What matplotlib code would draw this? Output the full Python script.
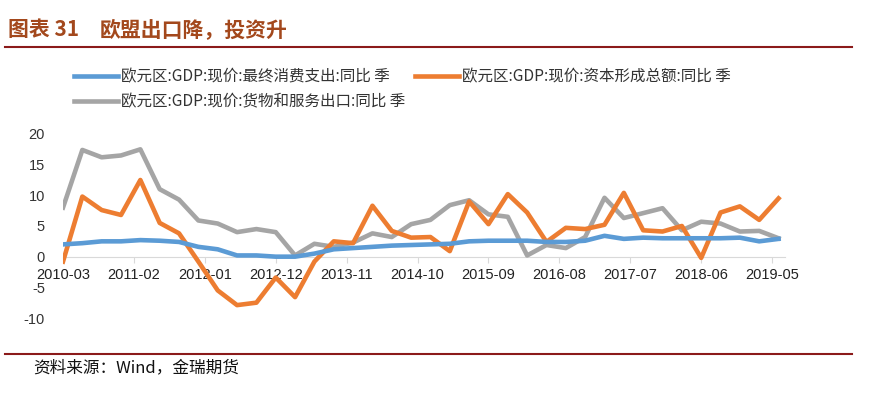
import numpy as np
import matplotlib.pyplot as plt
from matplotlib.lines import Line2D

plt.rcParams['font.family'] = ['Noto Sans CJK SC', 'DejaVu Sans']

# quarterly points, 2010-03 .. 2019-06 (months since 2010-03)
months = np.arange(0, 112, 3)
tick_months = np.arange(0, 111, 11)
tick_labels = ['2010-03', '2011-02', '2012-01', '2012-12', '2013-11', '2014-10',
               '2015-09', '2016-08', '2017-07', '2018-06', '2019-05']

consumption = [2.0, 2.2, 2.5, 2.5, 2.7, 2.6, 2.4, 1.6, 1.2, 0.2,
               0.2, 0.0, 0.0, 0.5, 1.2, 1.4, 1.6, 1.8, 1.9, 2.0,
               2.1, 2.5, 2.6, 2.6, 2.6, 2.4, 2.4, 2.6, 3.4, 2.9,
               3.1, 3.0, 3.0, 3.0, 3.0, 3.1, 2.5, 2.9]
capital = [-0.8, 9.8, 7.6, 6.8, 12.5, 5.5, 3.8, -0.8, -5.5, -7.9,
           -7.5, -3.4, -6.6, -0.8, 2.5, 2.2, 8.3, 4.2, 3.1, 3.2,
           0.9, 9.0, 5.3, 10.2, 7.2, 2.4, 4.7, 4.5, 5.2, 10.4,
           4.3, 4.1, 5.0, -0.2, 7.2, 8.2, 6.0, 9.5]
exports = [8.0, 17.4, 16.2, 16.5, 17.5, 11.0, 9.3, 5.9, 5.4, 4.0,
           4.5, 4.0, 0.2, 2.1, 1.6, 2.3, 3.8, 3.2, 5.3, 6.0,
           8.4, 9.2, 6.9, 6.5, 0.2, 1.9, 1.4, 3.2, 9.6, 6.3,
           7.1, 7.9, 4.3, 5.7, 5.4, 4.1, 4.2, 3.0]

labels = ['欧元区:GDP:现价:最终消费支出:同比 季',
          '欧元区:GDP:现价:资本形成总额:同比 季',
          '欧元区:GDP:现价:货物和服务出口:同比 季']
colors = ['#5B9BD5', '#ED7D31', '#A5A5A5']

fig = plt.figure(figsize=(8.77, 3.97), dpi=100)
W, H = 877, 397
ax = fig.add_axes([63 / W, 1 - 318 / H, (785 - 63) / W, (318 - 134) / H])

l1, = ax.plot(months, consumption, color=colors[0], lw=3.3, solid_joinstyle='round', zorder=3)
l2, = ax.plot(months, capital, color=colors[1], lw=3.3, solid_joinstyle='round', zorder=2)
l3, = ax.plot(months, exports, color=colors[2], lw=3.3, solid_joinstyle='round', zorder=1)

ax.set_xlim(0, 112)
ax.set_ylim(-10, 20)
for s in ['top', 'left', 'right']:
    ax.spines[s].set_visible(False)
ax.spines['bottom'].set_position(('data', 0))
ax.spines['bottom'].set_color('#D9D9D9')
ax.spines['bottom'].set_zorder(0)

ax.set_yticks([-10, -5, 0, 5, 10, 15, 20])
ax.set_yticklabels(['-10', '-5', '0', '5', '10', '15', '20'],
                   fontfamily='Liberation Sans', fontsize=10.5, color='#333333')
ax.tick_params(axis='y', length=0, pad=13)
ax.set_xticks(tick_months)
ax.set_xticklabels(tick_labels, fontfamily='Liberation Sans', fontsize=10.5, color='#222222')
ax.tick_params(axis='x', length=4, color='#D9D9D9', direction='out', pad=4)

leg = fig.legend([l1, l3, l2], [labels[0], labels[2], labels[1]], ncol=2,
                 loc='upper left', bbox_to_anchor=(74 / W, 1 - 68 / H),
                 frameon=False, fontsize=11.2, handlelength=2.8,
                 handletextpad=0.25, columnspacing=0.6, labelspacing=0.55,
                 borderpad=0, borderaxespad=0)
for h in leg.legend_handles:
    h.set_linewidth(3.3)
for t in leg.get_texts():
    t.set_color('#333333')

fig.text(8 / W, 1 - 30 / H, '图表 31', fontsize=15,
         fontweight='bold', color='#A3481C', va='center', ha='left')
fig.text(100 / W, 1 - 30 / H, '欧盟出口降，投资升', fontsize=15,
         fontweight='bold', color='#A3481C', va='center', ha='left')
fig.add_artist(Line2D([5 / W, 852 / W], [1 - 47 / H, 1 - 47 / H], color='#8B1A1A', lw=1.5))
fig.add_artist(Line2D([5 / W, 852 / W], [1 - 354 / H, 1 - 354 / H], color='#8B1A1A', lw=1.5))
fig.text(33 / W, 1 - 368 / H, '资料来源：Wind，金瑞期货', fontsize=12,
         color='#111111', va='center', ha='left')

fig.savefig('out.png', dpi=100)
